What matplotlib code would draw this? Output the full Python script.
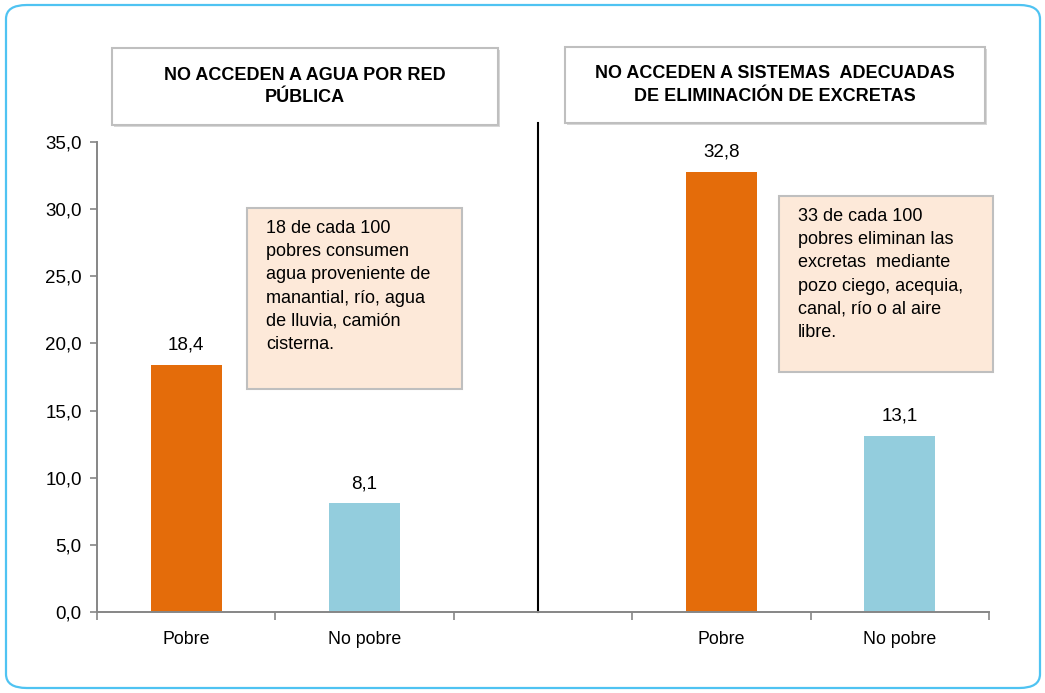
import matplotlib
matplotlib.use("Agg")
import matplotlib.pyplot as plt
from matplotlib.patches import FancyBboxPatch, Rectangle

plt.rcParams['font.family'] = ['Liberation Sans', 'DejaVu Sans']

# data
categories = ["Pobre", "No pobre", "", "Pobre", "No pobre"]
values = [18.4, 8.1, None, 32.8, 13.1]
bar_colors = ["#e46c0a", "#93cddd", None, "#e46c0a", "#93cddd"]
yticks = [0, 5, 10, 15, 20, 25, 30, 35]

title_left = "NO ACCEDEN A AGUA POR RED\nPÚBLICA"
title_right = "NO ACCEDEN A SISTEMAS  ADECUADAS\nDE ELIMINACIÓN DE EXCRETAS"
note_left = ("18 de cada 100\npobres consumen\nagua proveniente de\n"
             "manantial, río, agua\nde lluvia, camión\ncisterna.")
note_right = ("33 de cada 100\npobres eliminan las\nexcretas  mediante\n"
              "pozo ciego, acequia,\ncanal, río o al aire\nlibre.")

W, H = 1045, 693
fig = plt.figure(figsize=(W / 100, H / 100), dpi=100)

def fx(px):
    return px / W

def fy(py):
    return 1 - py / H

# outer rounded border
fig.patches.append(FancyBboxPatch((fx(6), fy(688)), fx(1034), (683) / H,
                                  boxstyle="round,pad=0,rounding_size=0.02",
                                  transform=fig.transFigure, fill=False,
                                  edgecolor="#4fc3f2", linewidth=1.6))

ax = fig.add_axes([fx(97), fy(612), fx(892), 470 / H])

xs = [i for i, v in enumerate(values) if v is not None]
vals = [values[i] for i in xs]
cols = [bar_colors[i] for i in xs]
bars = ax.bar(xs, vals, width=0.40, color=cols)
for x, v in zip(xs, vals):
    ax.annotate(f"{v:.1f}".replace(".", ","), (x, v), xytext=(0, 8),
                textcoords="offset points", ha="center", va="bottom",
                fontsize=13.5)

ax.set_xlim(-0.5, len(categories) - 0.5)
ax.set_ylim(0, 35)
ax.set_yticks(yticks)
ax.set_yticklabels([f"{t:.1f}".replace(".", ",") for t in yticks], fontsize=13.5)

ax.set_xticks([i - 0.5 for i in range(len(categories) + 1)])
ax.set_xticklabels([])
ax.set_xticks(range(len(categories)), minor=True)
ax.set_xticklabels(categories, minor=True, fontsize=12.8)
ax.tick_params(axis="x", which="major", length=6, color="#868686", width=1.2)
ax.tick_params(axis="x", which="minor", length=0, pad=14)
ax.tick_params(axis="y", length=5, color="#868686", width=1.2, pad=6)

for s in ["top", "right"]:
    ax.spines[s].set_visible(False)
for s in ["left", "bottom"]:
    ax.spines[s].set_color("#868686")
    ax.spines[s].set_linewidth(1.4)

# divider line between the two panels
ax.plot([1.97, 1.97], [0, 36.4], color="black", linewidth=1.5, clip_on=False)

# title boxes
for (x0, y0, x1, y1), txt in [((112, 48, 498, 125), title_left),
                              ((565, 47, 985, 123), title_right)]:
    fig.patches.append(Rectangle((fx(x0) + 0.002, fy(y1) - 0.003), fx(x1 - x0), (y1 - y0) / H,
                                 transform=fig.transFigure, facecolor="#d9d9d9",
                                 edgecolor="none", zorder=1))
    fig.patches.append(Rectangle((fx(x0), fy(y1)), fx(x1 - x0), (y1 - y0) / H,
                                 transform=fig.transFigure, facecolor="white",
                                 edgecolor="#bfbfbf", linewidth=1.5, zorder=2))
    fig.text(fx((x0 + x1) / 2), fy((y0 + y1) / 2), txt, ha="center", va="center",
             fontsize=13, fontweight="bold", linespacing=1.4, zorder=3)

# note boxes
for (x0, y0, x1, y1), txt in [((247, 208, 462, 389), note_left),
                              ((779, 196, 993, 372), note_right)]:
    fig.patches.append(Rectangle((fx(x0), fy(y1)), fx(x1 - x0), (y1 - y0) / H,
                                 transform=fig.transFigure, facecolor="#fde9d9",
                                 edgecolor="#bfbfbf", linewidth=1.5, zorder=2))
    fig.text(fx(x0 + 19), fy(y0 + 12), txt, ha="left", va="top",
             fontsize=13, linespacing=1.48, zorder=3)

fig.savefig("out.png", dpi=100)
